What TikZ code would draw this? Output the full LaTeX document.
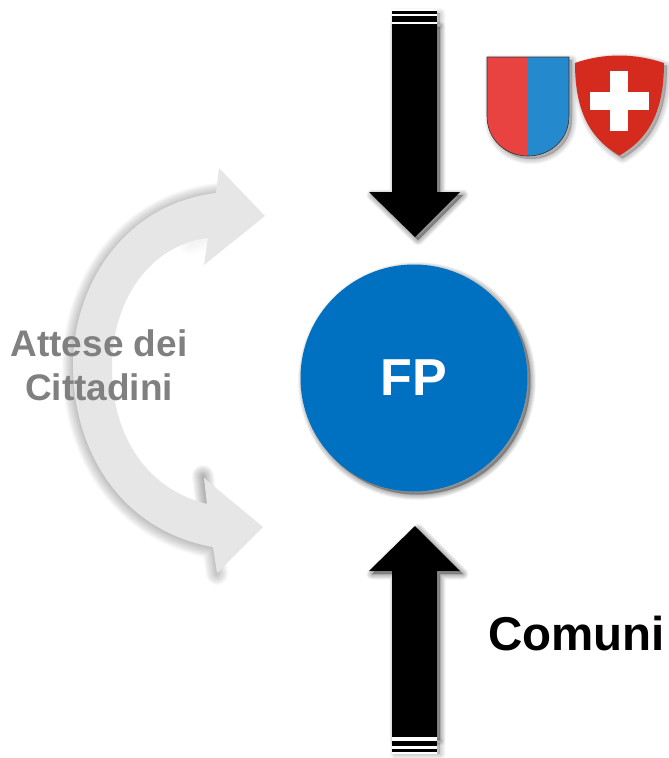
\documentclass[tikz,border=0pt]{standalone}
\usepackage{fontspec}
\setmainfont{Liberation Sans}
\definecolor{fpblue}{HTML}{0070C0}
\definecolor{archgray}{HTML}{E6E6E6}
\definecolor{labelgray}{HTML}{808080}
\definecolor{tired}{HTML}{E84340}
\definecolor{tiblue}{HTML}{2589CE}
\definecolor{swissred}{HTML}{D52B1E}
\newcommand{\softfill}[3]{%
  \foreach \w in {11,10,9,8,7,6,5,4,3,2,1,0.4}{%
    \fill[black,opacity=#3,draw=black,line width=\w pt,line join=round,shift={(#1)}] #2;}}
\newcommand{\softline}[3]{%
  \foreach \w in {22,20,18,16,14,12,10,8,6,4,2}{%
    \draw[black,opacity=#3,line width=\w pt,line cap=round,shift={(#1)}] #2;}}
\tikzset{
  x=1pt,y=-1pt,
  bigtext/.style={font=\bfseries,inner sep=0pt,outer sep=0pt},
}
\begin{document}
\begin{tikzpicture}
\useasboundingbox (0,0) rectangle (669,758);
% --- curved arrow
\softline{0,1}{(216,193) .. controls (120,205) and (73,290) .. (73,365) .. controls (73,450) and (120,530) .. (213,547) -- (217,573)}{0.022}
\softline{-1,-2}{(204,478) -- (207,504)}{0.03}
\softline{0,1}{(208,238) -- (190,244)}{0.005}
\fill[archgray] (216,193) .. controls (120,205) and (73,290) .. (73,365) .. controls (73,450) and (120,530) .. (213,547)
  -- (217,573) -- (263,527) -- (204,478) -- (207,504)
  .. controls (150,490) and (112,440) .. (112,367) .. controls (112,300) and (150,245) .. (208,238)
  -- (204,265) -- (265,216) -- (219,168) -- cycle;
% --- down arrow
\softfill{3,3}{(392,24) -- (437,24) -- (437,192) -- (460,192) -- (415,237) -- (369,192) -- (392,192) -- cycle}{0.03}
\softfill{3,2}{(392,11) rectangle (437,22)}{0.015}
\fill[black] (392,24) -- (437,24) -- (437,192) -- (460,192) -- (415,237) -- (369,192) -- (392,192) -- cycle;
\fill[white] (392,9) rectangle (437,24);
\fill[black] (392,11) rectangle (437,14);
\fill[black] (392,16) rectangle (437,22);
% --- up arrow
\softfill{3,3}{(392,737) -- (437,737) -- (437,571) -- (460,571) -- (415,526) -- (369,571) -- (392,571) -- cycle}{0.03}
\softfill{3,2}{(392,741) rectangle (437,752)}{0.015}
\fill[black] (392,737) -- (437,737) -- (437,571) -- (460,571) -- (415,526) -- (369,571) -- (392,571) -- cycle;
\fill[white] (392,737) rectangle (437,754);
\fill[black] (392,741) rectangle (437,746);
\fill[black] (392,749) rectangle (437,752);
% --- circle
\softfill{3,3}{(414,378) circle[radius=113.5]}{0.03}
\node[circle,fill=fpblue,minimum size=227pt,inner sep=0pt,text=white,bigtext,font=\bfseries\fontsize{52}{52}\selectfont] (fp) at (414,378) {FP};
% --- Ticino shield
\softfill{3,3}{(487,57) -- (569,57) -- (569,116) .. controls (569,140) and (550,156) .. (528,156) .. controls (506,156) and (487,140) .. (487,116) -- cycle}{0.02}
\fill[tired] (487,57) -- (528,57) -- (528,156) .. controls (506,156) and (487,140) .. (487,116) -- cycle;
\fill[tiblue] (528,57) -- (569,57) -- (569,116) .. controls (569,140) and (550,156) .. (528,156) -- cycle;
\draw[black!80,line width=0.6pt] (487,57) -- (569,57) -- (569,116) .. controls (569,140) and (550,156) .. (528,156) .. controls (506,156) and (487,140) .. (487,116) -- cycle;
% --- Swiss shield
\softfill{3,3}{(575,63) .. controls (604,53) and (634,53) .. (664,63) .. controls (664,110) and (650,138) .. (619.5,155.5) .. controls (589,138) and (575,110) .. (575,63) -- cycle}{0.02}
\fill[swissred] (575,63) .. controls (604,53) and (634,53) .. (664,63) .. controls (664,110) and (650,138) .. (619.5,155.5) .. controls (589,138) and (575,110) .. (575,63) -- cycle;
\fill[white] (610.3,71) rectangle (628.3,131);
\fill[white] (590,91.7) rectangle (649,110);
% --- labels
\node[bigtext,text=labelgray,align=center,anchor=base,font=\bfseries\fontsize{37}{44.5}\selectfont] (attese) at (99,400.5) {Attese dei\\Cittadini};
\node[bigtext,text=black,anchor=base west,font=\bfseries\fontsize{47.5}{47.5}\selectfont] (comuni) at (488,650) {Comuni};
\end{tikzpicture}
\end{document}
